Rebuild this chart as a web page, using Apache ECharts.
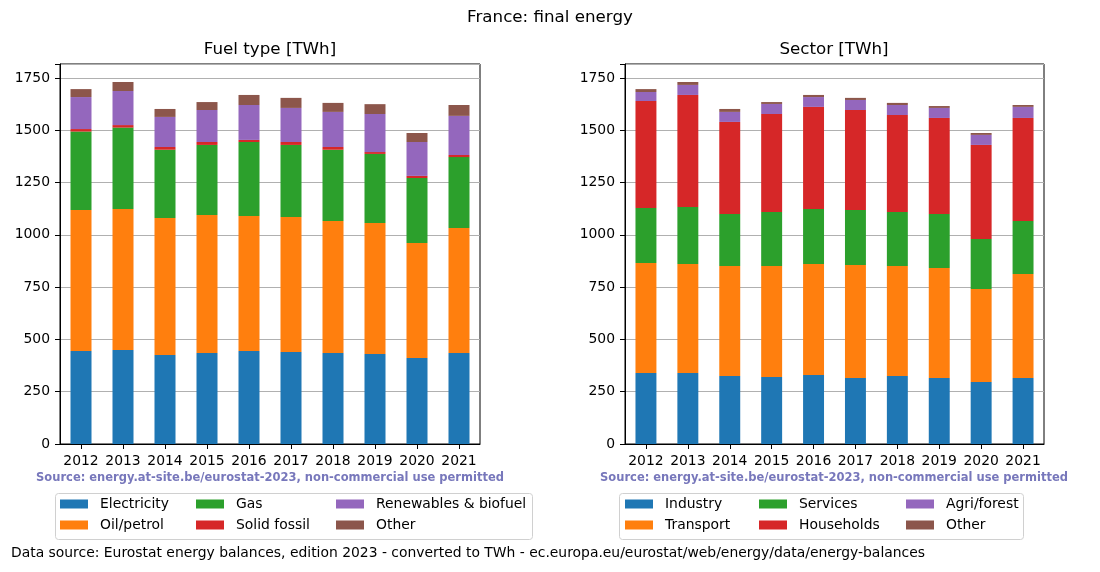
<!DOCTYPE html>
<html><head><meta charset="utf-8">
<script src="https://cdn.jsdelivr.net/npm/echarts@6/dist/echarts.min.js"></script>
<style>html,body{margin:0;padding:0;background:#fff}#c{width:1100px;height:572px}</style>
</head><body><div id="c"></div>
<script>
const years = ['2012','2013','2014','2015','2016','2017','2018','2019','2020','2021'];
// Fuel type [TWh]
const electricity = [445,450,426,435,445,440,435,430,411,435];
const oilPetrol   = [674,674,655,660,645,646,631,627,550,598];
const gas         = [375,389,326,335,354,344,341,330,311,339];
const solidFossil = [12,12,13,14,10,14,13,9,10,10];
const renewables  = [153,163,144,153,167,163,168,182,162,187];
const otherFuel   = [38,43,38,38,48,48,43,47,43,52];
// Sector [TWh]
const industry    = [340,340,325,320,330,316,325,316,296,316];
const transport   = [526,521,526,531,531,540,526,526,445,497];
const services    = [263,272,249,258,263,263,258,258,239,253];
const households  = [511,536,440,469,488,478,464,459,450,493];
const agriForest  = [43,48,48,48,47,48,48,48,48,53];
const otherSector = [14,14,14,9,10,10,10,9,9,9];
const yTicks = [0,250,500,750,1000,1250,1500,1750];

const colors = ['#1f77b4','#ff7f0e','#2ca02c','#d62728','#9467bd','#8c564b'];
const FONT = 'DejaVu Sans';

const fuelSeries = [['Electricity',electricity],['Oil/petrol',oilPetrol],['Gas',gas],['Solid fossil',solidFossil],['Renewables & biofuel',renewables],['Other',otherFuel]];
const sectorSeries = [['Industry',industry],['Transport',transport],['Services',services],['Households',households],['Agri/forest',agriForest],['Other ',otherSector]];

const chart = echarts.init(document.getElementById('c'), null, {renderer:'canvas'});

function xAxis(gi){
  return {type:'category', data: years, gridIndex: gi,
    axisLine:{show:true,lineStyle:{color:'#000',width:1}},
    axisTick:{show:true,alignWithLabel:true,length:5,lineStyle:{color:'#000'}},
    axisLabel:{color:'#000',fontFamily:FONT,fontSize:13.9,margin:10,interval:0}};
}
function yAxis(gi){
  return {type:'value', gridIndex: gi, min:0, max:1817, interval:250,
    axisLine:{show:true,lineStyle:{color:'#000',width:1}},
    axisTick:{show:true,length:5,lineStyle:{color:'#000'}},
    axisLabel:{color:'#000',fontFamily:FONT,fontSize:13.9,margin:10,
      formatter: v => yTicks.includes(v) ? String(v) : ''},
    splitLine:{show:true,lineStyle:{color:'#b0b0b0',width:1}}};
}
const series = [];
fuelSeries.forEach(([n,d],i)=>series.push({name:n,type:'bar',stack:'f',xAxisIndex:0,yAxisIndex:0,data:d,barWidth:'50%',itemStyle:{color:colors[i]}}));
sectorSeries.forEach(([n,d],i)=>series.push({name:n,type:'bar',stack:'s',xAxisIndex:1,yAxisIndex:1,data:d,barWidth:'50%',itemStyle:{color:colors[i]}}));

function legend(names, left){
  return {data: names.map(n=>({name:n,icon:'rect'})), orient:'vertical', left:left, top:497,
    itemWidth:28, itemHeight:9, itemGap:7, selectedMode:false, padding:0,
    textStyle:{fontFamily:FONT,fontSize:13.9,color:'#000',padding:[0,0,0,7]}};
}
const srcText = 'Source: energy.at-site.be/eurostat-2023, non-commercial use permitted';
const tStyle = {fontFamily:FONT,fontSize:16.7,fontWeight:'normal',color:'#000'};
chart.setOption({
  animation:false,
  color: colors,
  title:[
    {text:'France: final energy',left:550,textAlign:'center',top:9,padding:0,textStyle:tStyle},
    {text:'Fuel type [TWh]',left:270,textAlign:'center',top:41,padding:0,textStyle:tStyle},
    {text:'Sector [TWh]',left:834,textAlign:'center',top:41,padding:0,textStyle:tStyle}
  ],
  grid:[
    {left:60,top:64,width:420,height:380,show:true,borderColor:'#000',borderWidth:1,containLabel:false},
    {left:625,top:64,width:419,height:380,show:true,borderColor:'#000',borderWidth:1,containLabel:false}
  ],
  xAxis:[xAxis(0),xAxis(1)],
  yAxis:[yAxis(0),yAxis(1)],
  legend:[
    legend(['Electricity','Oil/petrol'],60),
    legend(['Gas','Solid fossil'],196),
    legend(['Renewables & biofuel','Other'],336),
    legend(['Industry','Transport'],625),
    legend(['Services','Households'],759),
    legend(['Agri/forest','Other '],906)
  ],
  graphic:[
    {type:'rect',shape:{x:55.5,y:493.5,width:477,height:46,r:3},style:{fill:'none',stroke:'#d0d0d0',lineWidth:1},z:-1},
    {type:'rect',shape:{x:619.5,y:493.5,width:404,height:46,r:3},style:{fill:'none',stroke:'#d0d0d0',lineWidth:1},z:-1},
    {type:'text',x:270,y:478,style:{text:srcText,fill:'#7777bb',font:'bold 11.5px "DejaVu Sans"',textAlign:'center',textVerticalAlign:'middle'}},
    {type:'text',x:834,y:478,style:{text:srcText,fill:'#7777bb',font:'bold 11.5px "DejaVu Sans"',textAlign:'center',textVerticalAlign:'middle'}},
    {type:'text',x:11,y:553,style:{text:'Data source: Eurostat energy balances, edition 2023 - converted to TWh - ec.europa.eu/eurostat/web/energy/data/energy-balances',fill:'#000',font:'13.9px "DejaVu Sans"',textAlign:'left',textVerticalAlign:'middle'}}
  ],
  series: series
});
</script></body></html>
